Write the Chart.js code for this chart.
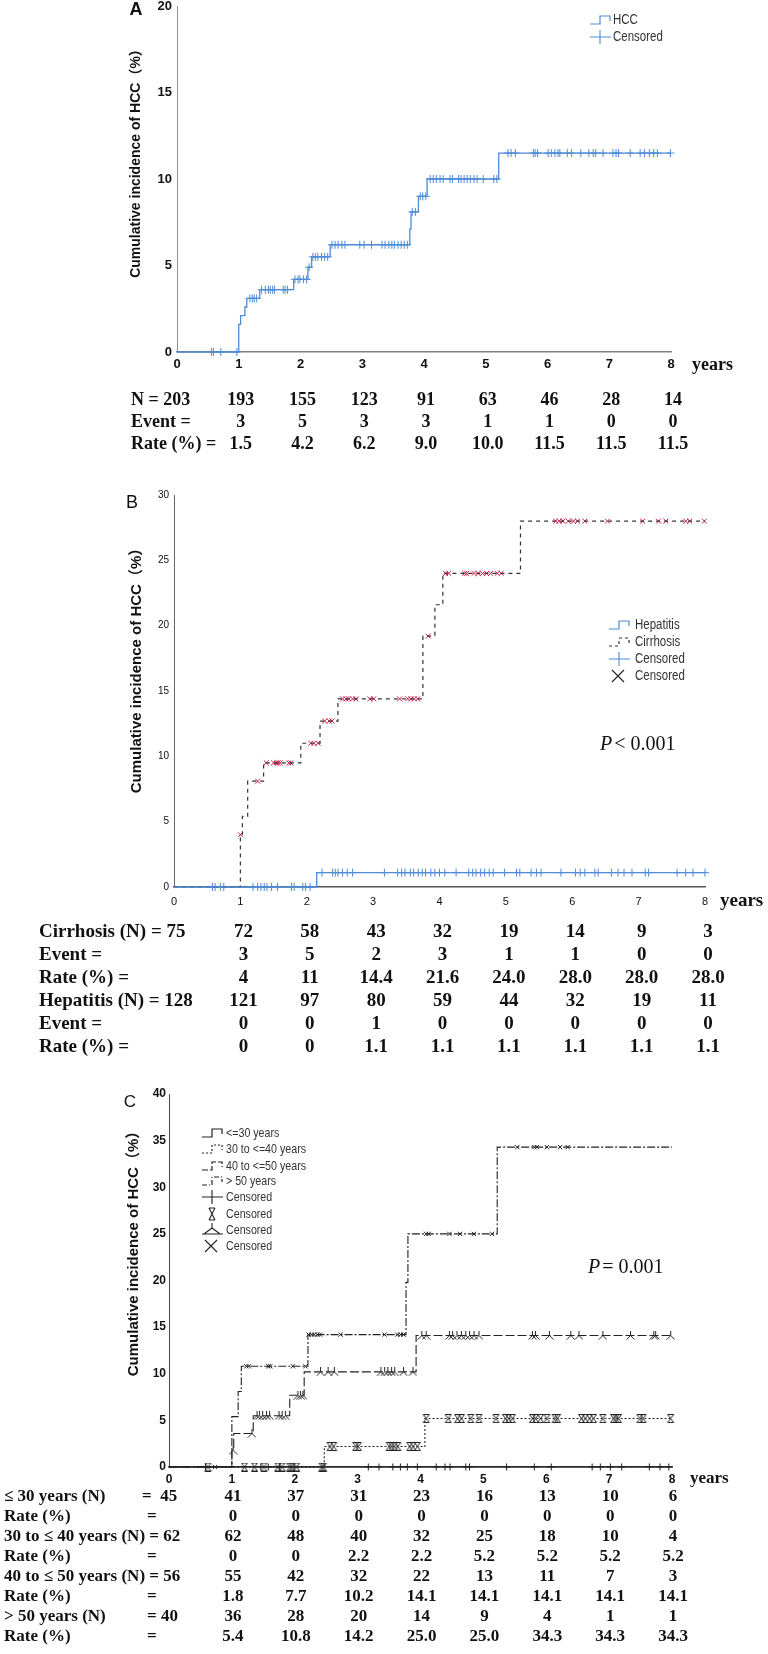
<!DOCTYPE html>
<html>
<head>
<meta charset="utf-8">
<script src="https://cdn.jsdelivr.net/npm/chart.js@4.4.1/dist/chart.umd.min.js"></script>
<style>
  body { margin: 0; background: #fff; width: 768px; height: 1654px; position: relative; overflow: hidden; }
  canvas { position: absolute; left: 0; }
</style>
</head>
<body>
<canvas id="chartA" width="768" height="480" style="top:-14px;width:768px;height:480px"></canvas>
<canvas id="chartB" width="768" height="600" style="top:466px;width:768px;height:600px"></canvas>
<canvas id="chartC" width="768" height="588" style="top:1066px;width:768px;height:588px"></canvas>
<script>
// ---------- data ----------
// panel A : all patients
var hccT = [0, 1.0, 1.03, 1.1, 1.13, 1.34, 1.89, 2.12, 2.18, 2.48, 3.77, 3.79, 3.91, 4.05, 5.21, 8.0];
var hccV = [0, 1.6, 2.1, 2.6, 3.1, 3.6, 4.2, 4.9, 5.5, 6.2, 7.1, 8.1, 9.0, 10.0, 11.5, 11.5];
var hccCensor = [0.56, 0.59, 0.71, 0.97, 1.18, 1.22, 1.25, 1.29, 1.37, 1.43, 1.48, 1.51, 1.55, 1.58, 1.72, 1.75, 1.79,
  1.91, 1.96, 1.99, 2.05, 2.10, 2.14, 2.2, 2.24, 2.28, 2.34, 2.39, 2.44, 2.51, 2.56, 2.61, 2.67, 2.72, 2.96, 3.03, 3.15,
  3.32, 3.37, 3.43, 3.48, 3.52, 3.58, 3.63, 3.68, 3.73, 3.81, 3.86, 3.94, 3.98, 4.03, 4.1, 4.15, 4.2, 4.26, 4.31, 4.42,
  4.46, 4.56, 4.6, 4.65, 4.7, 4.75, 4.81, 4.86, 4.96, 5.13, 5.18, 5.36, 5.41, 5.48, 5.77, 5.8, 5.84, 6.01, 6.06, 6.12,
  6.17, 6.2, 6.32, 6.39, 6.54, 6.67, 6.74, 6.78, 6.9, 7.06, 7.11, 7.15, 7.34, 7.5, 7.57, 7.65, 7.72, 7.78, 7.99];
var aRowLabels = ['N = 203', 'Event =', 'Rate (%) ='];
var aAtRisk = ['193', '155', '123', '91', '63', '46', '28', '14'];
var aEvents = ['3', '5', '3', '3', '1', '1', '0', '0'];
var aRates = ['1.5', '4.2', '6.2', '9.0', '10.0', '11.5', '11.5', '11.5'];

// panel B : cirrhosis vs hepatitis
var cirT = [0, 1.0, 1.03, 1.11, 1.35, 1.91, 2.2, 2.47, 3.75, 3.93, 4.05, 5.22, 8.0];
var cirV = [0, 4.0, 5.4, 8.1, 9.5, 11.0, 12.7, 14.4, 19.2, 21.6, 24.0, 28.0, 28.0];
var cirCensor = [1.0, 1.26, 1.39, 1.5, 1.54, 1.57, 1.6, 1.73, 1.76, 2.06, 2.11, 2.17, 2.27, 2.34, 2.38, 2.54, 2.59,
  2.63, 2.69, 2.74, 2.95, 3.01, 3.4, 3.52, 3.57, 3.62, 3.67, 3.83, 4.09, 4.14, 4.38, 4.41, 4.52, 4.58, 4.65, 4.71,
  4.77, 4.87, 4.93, 5.75, 5.8, 5.86, 5.94, 6.02, 6.08, 6.19, 6.53, 7.06, 7.3, 7.41, 7.71, 7.77, 7.99];
var hepT = [0, 2.15, 8.0];
var hepV = [0, 1.1, 1.1];
var hepCensor = [0.58, 0.62, 0.7, 0.75, 1.19, 1.26, 1.31, 1.36, 1.4, 1.47, 1.56, 1.77, 1.81, 1.94, 1.98, 2.05, 2.23,
  2.39, 2.43, 2.47, 2.54, 2.61, 2.69, 3.17, 3.37, 3.43, 3.48, 3.56, 3.61, 3.68, 3.74, 3.79, 3.87, 3.93, 4.0, 4.08,
  4.25, 4.44, 4.5, 4.55, 4.62, 4.68, 4.75, 4.81, 4.98, 5.16, 5.21, 5.38, 5.46, 5.53, 5.83, 6.05, 6.12, 6.19, 6.34,
  6.39, 6.59, 6.69, 6.78, 6.9, 7.1, 7.15, 7.58, 7.71, 7.82, 8.0];
var bRowLabels = ['Cirrhosis (N) = 75', 'Event =', 'Rate (%) =', 'Hepatitis (N) = 128', 'Event =', 'Rate (%) ='];
var bRows = [
  ['72', '58', '43', '32', '19', '14', '9', '3'],
  ['3', '5', '2', '3', '1', '1', '0', '0'],
  ['4', '11', '14.4', '21.6', '24.0', '28.0', '28.0', '28.0'],
  ['121', '97', '80', '59', '44', '32', '19', '11'],
  ['0', '0', '1', '0', '0', '0', '0', '0'],
  ['0', '0', '1.1', '1.1', '1.1', '1.1', '1.1', '1.1']
];

// panel C : age groups
var le30T = [0, 8.0];
var le30V = [0, 0];
var le30Censor = [0.58, 1.46, 1.58, 1.76, 1.99, 3.17, 3.34, 3.56, 3.68, 3.79, 3.95, 4.25, 4.39, 4.47, 4.72, 4.78,
  5.37, 5.81, 6.08, 6.73, 6.86, 7.02, 7.2, 7.64, 7.81, 7.95];
var g3040T = [0, 2.47, 4.07, 8.0];
var g3040V = [0, 2.2, 5.2, 5.2];
var g3040Censor = [0.62, 1.2, 1.36, 1.51, 1.73, 1.8, 1.92, 1.95, 2.03, 2.43, 2.46, 2.56, 2.62, 2.97, 3.01, 3.5, 3.54,
  3.59, 3.64, 3.83, 3.88, 3.95, 4.09, 4.44, 4.59, 4.65, 4.8, 4.93, 5.2, 5.35, 5.4, 5.46, 5.78, 5.83, 5.91, 6.01, 6.14,
  6.18, 6.56, 6.62, 6.69, 6.75, 6.9, 7.07, 7.11, 7.15, 7.49, 7.54, 7.98];
var g4050T = [0, 1.0, 1.03, 1.34, 1.92, 2.15, 3.93, 8.0];
var g4050V = [0, 1.8, 3.6, 5.5, 7.7, 10.2, 14.1, 14.1];
var g4050Censor = [1.02, 1.32, 1.4, 1.44, 1.49, 1.55, 1.6, 1.75, 1.8, 1.85, 2.05, 2.09, 2.13, 2.41, 2.53, 2.63, 3.37,
  3.43, 3.48, 3.54, 3.59, 3.73, 3.88, 4.02, 4.09, 4.46, 4.51, 4.58, 4.65, 4.72, 4.78, 4.85, 4.93, 5.78, 5.83, 6.05,
  6.39, 6.52, 6.9, 7.34, 7.71, 7.74, 7.98];
var gt50T = [0, 1.0, 1.1, 1.15, 2.21, 3.77, 3.8, 5.22, 8.0];
var gt50V = [0, 5.4, 8.1, 10.8, 14.2, 19.8, 25.0, 34.3, 34.3];
var gt50Censor = [0.73, 1.23, 1.27, 1.58, 1.61, 1.97, 2.17, 2.22, 2.27, 2.31, 2.36, 2.4, 2.73, 3.43, 3.63, 3.68, 3.73,
  4.09, 4.13, 4.46, 4.63, 4.85, 5.14, 5.54, 5.81, 5.85, 6.01, 6.22, 6.34];
var cRowLabels = ['\u2264 30 years (N)', 'Rate (%)', '30 to \u2264 40 years (N) = 62', 'Rate (%)',
  '40 to \u2264 50 years (N) = 56', 'Rate (%)', '> 50 years (N)', 'Rate (%)'];
var cRowEq = ['=  45', '=', '', '=', '', '=', '= 40', '='];
var cRows = [
  ['41', '37', '31', '23', '16', '13', '10', '6'],
  ['0', '0', '0', '0', '0', '0', '0', '0'],
  ['62', '48', '40', '32', '25', '18', '10', '4'],
  ['0', '0', '2.2', '2.2', '5.2', '5.2', '5.2', '5.2'],
  ['55', '42', '32', '22', '13', '11', '7', '3'],
  ['1.8', '7.7', '10.2', '14.1', '14.1', '14.1', '14.1', '14.1'],
  ['36', '28', '20', '14', '9', '4', '1', '1'],
  ['5.4', '10.8', '14.2', '25.0', '25.0', '34.3', '34.3', '34.3']
];

// ---------- helpers ----------
var SANS = "'Liberation Sans', 'Noto Sans CJK KR', sans-serif";
var SERIF = "'Liberation Serif', 'Times New Roman', serif";
var BLUE = '#4f8bd6';
var RED = '#cf1d4b';
var INK = '#222';

function stepPts(T, V) {
  return T.map(function (t, i) { return { x: t, y: V[i] }; });
}
// censored marks sit on the curve level at their time
function levelAt(T, V, t) {
  var v = V[0];
  for (var i = 0; i < T.length; i++) { if (T[i] <= t) v = V[i]; }
  return v;
}
function censorPts(times, T, V) {
  return times.map(function (t) { return { x: t, y: levelAt(T, V, t) }; });
}

function markCanvas(kind) {
  var c = document.createElement('canvas');
  c.width = 9; c.height = 9;
  var g = c.getContext('2d');
  g.strokeStyle = INK; g.lineWidth = 1;
  g.beginPath();
  if (kind === 'hourglass') {
    g.moveTo(1.5, 0.5); g.lineTo(7.5, 0.5);
    g.moveTo(1.5, 8.5); g.lineTo(7.5, 8.5);
    g.moveTo(1.5, 0.5); g.lineTo(7.5, 8.5);
    g.moveTo(7.5, 0.5); g.lineTo(1.5, 8.5);
  } else {
    g.moveTo(4.5, 0); g.lineTo(4.5, 4.5);
    g.lineTo(0.5, 8.5);
    g.moveTo(4.5, 4.5); g.lineTo(8.5, 8.5);
  }
  g.stroke();
  return c;
}
var hourglassMark = markCanvas('hourglass');
var tripodMark = markCanvas('tripod');

function txt(ctx, s, x, y, font, align, color) {
  ctx.font = font;
  ctx.textAlign = align || 'left';
  ctx.textBaseline = 'middle';
  ctx.fillStyle = color || '#111';
  ctx.fillText(s, x, y);
}
// condensed sans for the legend entries
function narrowTxt(ctx, s, x, y, size) {
  ctx.save();
  ctx.translate(x, y);
  ctx.scale(0.82, 1);
  txt(ctx, s, 0, 0, size + 'px ' + SANS, 'left', '#333');
  ctx.restore();
}
function vtitle(ctx, s, x, y, font) {
  ctx.save();
  ctx.translate(x, y);
  ctx.rotate(-Math.PI / 2);
  txt(ctx, s, 0, 0, font, 'center', '#111');
  ctx.restore();
}
function stepIcon(ctx, x, y, color, dash) {
  ctx.save();
  ctx.strokeStyle = color; ctx.lineWidth = 1.2; ctx.setLineDash(dash || []);
  ctx.beginPath();
  ctx.moveTo(x, y + 4); ctx.lineTo(x + 10, y + 4); ctx.lineTo(x + 10, y - 4);
  ctx.lineTo(x + 20, y - 4); ctx.lineTo(x + 20, y + 1);
  ctx.stroke();
  ctx.restore();
}
function lineMark(ctx, x, y, color, mark) {
  ctx.save();
  ctx.strokeStyle = color; ctx.lineWidth = 1.1;
  ctx.beginPath();
  if (mark === 'plus') {
    ctx.moveTo(x, y); ctx.lineTo(x + 21, y);
    ctx.moveTo(x + 10, y - 7); ctx.lineTo(x + 10, y + 7);
  } else if (mark === 'x') {
    ctx.moveTo(x + 3, y - 6); ctx.lineTo(x + 15, y + 6);
    ctx.moveTo(x + 15, y - 6); ctx.lineTo(x + 3, y + 6);
  } else if (mark === 'tripod') {
    ctx.moveTo(x, y + 4); ctx.lineTo(x + 21, y + 4);
    ctx.moveTo(x + 2, y + 4); ctx.lineTo(x + 10, y - 2); ctx.lineTo(x + 18, y + 4);
    ctx.moveTo(x + 10, y - 2); ctx.lineTo(x + 10, y - 7);
  } else if (mark === 'hourglass') {
    ctx.moveTo(x + 7, y - 6); ctx.lineTo(x + 13, y - 6);
    ctx.moveTo(x + 7, y + 6); ctx.lineTo(x + 13, y + 6);
    ctx.moveTo(x + 7, y - 6); ctx.lineTo(x + 13, y + 6);
    ctx.moveTo(x + 13, y - 6); ctx.lineTo(x + 7, y + 6);
  }
  ctx.stroke();
  ctx.restore();
}
function pValue(ctx, rest, x, y) {
  ctx.font = 'italic 20px ' + SERIF;
  ctx.textAlign = 'left'; ctx.textBaseline = 'middle'; ctx.fillStyle = '#111';
  ctx.fillText('P', x, y);
  var w = ctx.measureText('P').width;
  txt(ctx, rest, x + w + 2, y, '20px ' + SERIF);
}
function tableRow(ctx, chart, values, y, font, dx) {
  var xs = chart.scales.x;
  values.forEach(function (v, i) {
    txt(ctx, v, xs.getPixelForValue(i + 1) + dx, y, font, 'center', '#111');
  });
}

function xAxis(font, pad, color) {
  return {
    type: 'linear', min: 0, max: 8,
    afterFit: function (s) { s.height = 30; },
    ticks: { stepSize: 1, autoSkip: false, maxRotation: 0, font: font, color: '#111', padding: pad },
    grid: { display: false, drawTicks: false },
    border: { display: true, color: color, width: 1.5 }
  };
}
function yAxis(max, width, font, pad, color) {
  return {
    type: 'linear', min: 0, max: max,
    afterFit: function (s) { s.width = width; },
    ticks: { stepSize: 5, font: font, color: '#111', padding: pad },
    grid: { display: false, drawTicks: false },
    border: { display: true, color: color, width: 1 }
  };
}
function curve(T, V, color, dash, width) {
  return { data: stepPts(T, V), showLine: true, stepped: true, borderColor: color, borderWidth: width || 1.2,
    borderDash: dash || [], pointRadius: 0, fill: false, clip: false };
}
function marks(times, T, V, style, color, r) {
  return { data: censorPts(times, T, V), showLine: false, pointStyle: style, pointRadius: r,
    borderColor: color, backgroundColor: color, borderWidth: 1, clip: false };
}
function panelPlugin(top, draw) {
  return {
    id: 'panelText',
    afterDraw: function (chart) {
      var ctx = chart.ctx;
      ctx.save();
      ctx.translate(0, -top);
      draw(ctx, chart);
      ctx.restore();
    }
  };
}
function baseOptions(scales, padding) {
  return {
    responsive: false, animation: false, events: [],
    layout: { padding: padding },
    plugins: { legend: { display: false }, tooltip: { enabled: false } },
    scales: scales
  };
}

// ---------- panel A ----------
new Chart(document.getElementById('chartA'), {
  type: 'scatter',
  data: { datasets: [
    curve(hccT, hccV, BLUE, [], 1.3),
    marks(hccCensor, hccT, hccV, 'cross', BLUE, 4)
  ] },
  options: baseOptions({
    x: xAxis({ family: SANS, size: 13, weight: 'bold' }, 5, '#808080'),
    y: yAxis(20, 177, { family: SANS, size: 13, weight: 'bold' }, 5, '#909090')
  }, { top: 20, right: 97, bottom: 84, left: 0 }),
  plugins: [panelPlugin(-14, function (ctx, chart) {
    txt(ctx, 'A', 136, 10, 'bold 18px ' + SANS, 'center');
    vtitle(ctx, 'Cumulative incidence of HCC\uFF08%\uFF09', 136, 160, 'bold 14px ' + SANS);
    stepIcon(ctx, 590, 20, BLUE);
    narrowTxt(ctx, 'HCC', 613, 20, 14);
    lineMark(ctx, 590, 37, BLUE, 'plus');
    narrowTxt(ctx, 'Censored', 613, 37, 14);
    txt(ctx, 'years', 692, 365, 'bold 18px ' + SERIF);
    var f = 'bold 18px ' + SERIF;
    [aAtRisk, aEvents, aRates].forEach(function (row, r) {
      var y = 400 + r * 22;
      txt(ctx, aRowLabels[r], 131, y, f);
      tableRow(ctx, chart, row, y, f, 2);
    });
  })]
});

// ---------- panel B ----------
new Chart(document.getElementById('chartB'), {
  type: 'scatter',
  data: { datasets: [
    curve(hepT, hepV, BLUE, [], 1.3),
    curve(cirT, cirV, '#333', [4, 4], 1.2),
    marks(hepCensor, hepT, hepV, 'cross', BLUE, 4),
    marks(cirCensor, cirT, cirV, 'crossRot', RED, 3.5)
  ] },
  options: baseOptions({
    x: xAxis({ family: SANS, size: 11 }, 8, '#555'),
    y: yAxis(30, 174, { family: SANS, size: 10 }, 5, '#666')
  }, { top: 29, right: 63, bottom: 149, left: 0 }),
  plugins: [panelPlugin(466, function (ctx, chart) {
    txt(ctx, 'B', 132, 503, '18px ' + SANS, 'center');
    vtitle(ctx, 'Cumulative incidence of HCC\uFF08%\uFF09', 137, 667, 'bold 15px ' + SANS);
    stepIcon(ctx, 609, 625, BLUE);
    narrowTxt(ctx, 'Hepatitis', 635, 625, 14);
    stepIcon(ctx, 609, 642, '#333', [3, 3]);
    narrowTxt(ctx, 'Cirrhosis', 635, 642, 14);
    lineMark(ctx, 609, 659, BLUE, 'plus');
    narrowTxt(ctx, 'Censored', 635, 659, 14);
    lineMark(ctx, 609, 676, '#222', 'x');
    narrowTxt(ctx, 'Censored', 635, 676, 14);
    pValue(ctx, '< 0.001', 600, 745);
    txt(ctx, 'years', 720, 901, 'bold 19px ' + SERIF);
    var f = 'bold 19px ' + SERIF;
    bRows.forEach(function (row, r) {
      var y = 932 + r * 23;
      txt(ctx, bRowLabels[r], 39, y, f);
      tableRow(ctx, chart, row, y, f, 3);
    });
  })]
});

// ---------- panel C ----------
new Chart(document.getElementById('chartC'), {
  type: 'scatter',
  data: { datasets: [
    curve(le30T, le30V, INK, [], 1.1),
    curve(g3040T, g3040V, INK, [2, 2], 1.1),
    curve(g4050T, g4050V, INK, [9, 3], 1.1),
    curve(gt50T, gt50V, INK, [8, 2, 2, 2], 1.1),
    marks(le30Censor, le30T, le30V, 'cross', INK, 3.5),
    marks(g3040Censor, g3040T, g3040V, hourglassMark, INK, 4),
    marks(g4050Censor, g4050T, g4050V, tripodMark, INK, 4),
    marks(gt50Censor, gt50T, gt50V, 'crossRot', INK, 3)
  ] },
  options: baseOptions({
    x: xAxis({ family: SANS, size: 12, weight: 'bold' }, 5, '#333'),
    y: yAxis(40, 169, { family: SANS, size: 12, weight: 'bold' }, 3, '#444')
  }, { top: 28, right: 96, bottom: 157, left: 0 }),
  plugins: [panelPlugin(1066, function (ctx, chart) {
    txt(ctx, 'C', 130, 1102, '17px ' + SANS, 'center');
    vtitle(ctx, 'Cumulative incidence of HCC\uFF08%\uFF09', 134, 1250, 'bold 15px ' + SANS);
    stepIcon(ctx, 202, 1133, INK);
    narrowTxt(ctx, '<=30 years', 226, 1133, 13);
    stepIcon(ctx, 202, 1149, INK, [2, 2]);
    narrowTxt(ctx, '30 to <=40 years', 226, 1149, 13);
    stepIcon(ctx, 202, 1166, INK, [6, 2]);
    narrowTxt(ctx, '40 to <=50 years', 226, 1166, 13);
    stepIcon(ctx, 202, 1181, INK, [5, 2, 1, 2]);
    narrowTxt(ctx, '> 50 years', 226, 1181, 13);
    lineMark(ctx, 202, 1197, INK, 'plus');
    narrowTxt(ctx, 'Censored', 226, 1197, 13);
    lineMark(ctx, 202, 1214, INK, 'hourglass');
    narrowTxt(ctx, 'Censored', 226, 1214, 13);
    lineMark(ctx, 202, 1230, INK, 'tripod');
    narrowTxt(ctx, 'Censored', 226, 1230, 13);
    lineMark(ctx, 202, 1246, INK, 'x');
    narrowTxt(ctx, 'Censored', 226, 1246, 13);
    pValue(ctx, '= 0.001', 588, 1268);
    txt(ctx, 'years', 690, 1479, 'bold 17px ' + SERIF);
    var f = 'bold 17px ' + SERIF;
    cRows.forEach(function (row, r) {
      var y = 1497 + r * 20;
      txt(ctx, cRowLabels[r], 4, y, f);
      if (cRowEq[r]) txt(ctx, cRowEq[r], r === 0 ? 142 : 147, y, f);
      tableRow(ctx, chart, row, y, f, 1);
    });
  })]
});
</script>
</body>
</html>
